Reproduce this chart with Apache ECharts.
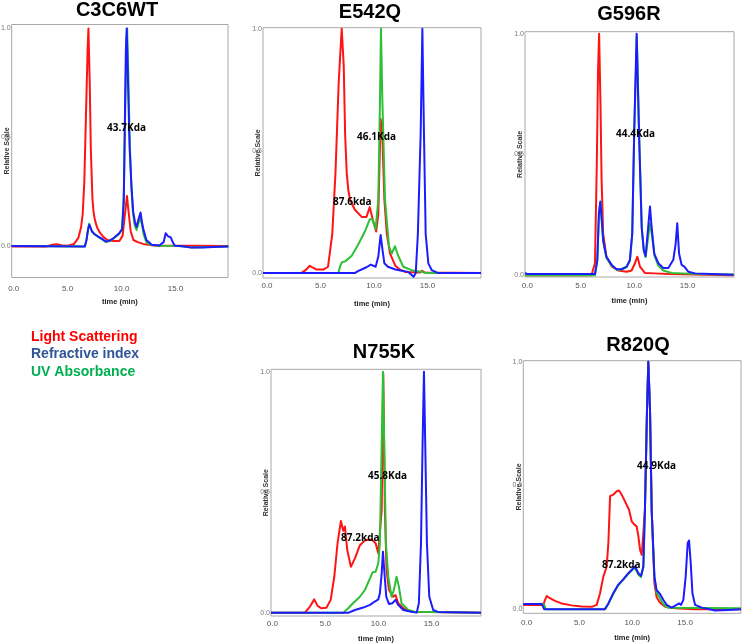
<!DOCTYPE html>
<html><head><meta charset="utf-8">
<script src="https://cdn.jsdelivr.net/npm/echarts@6/dist/echarts.min.js"></script>
<style>html,body{margin:0;padding:0;background:#fff}#c{width:742px;height:643px}</style>
</head><body><div id="c"></div>
<script>
// ---------- DATA ----------
const panelTitles = ["C3C6WT", "E542Q", "G596R", "N755K", "R820Q"];
const xTicks = [0, 5, 10, 15];
const yTicks = [0, 0.5, 1];
const xAxisName = "time (min)";
const yAxisName = "Relative Scale";
const legendLabels = ["Light Scattering", "Refractive index", "UV Absorbance"];
const massLabels = [["43.7Kda"], ["46.1Kda", "87.6kda"], ["44.4Kda"], ["45.8Kda", "87.2kda"], ["44.9Kda", "87.2kda"]];

// C3C6WT
const c3c6wtLS = [[-0.2,0.0],[3.0,0.0],[3.6,0.008],[4.0,0.01],[4.4,0.006],[5.0,0.004],[5.6,0.012],[6.0,0.04],[6.25,0.09],[6.4,0.15],[6.55,0.3],[6.7,0.6],[6.85,0.9],[6.93,1.0],[7.05,0.75],[7.15,0.45],[7.3,0.22],[7.4,0.16],[7.5,0.13],[7.65,0.1],[7.8,0.08],[8.05,0.06],[8.3,0.045],[8.7,0.03],[9.2,0.025],[9.8,0.025],[10.1,0.05],[10.3,0.14],[10.5,0.232],[10.65,0.16],[10.85,0.07],[11.1,0.03],[11.5,0.02],[12.0,0.012],[13.0,0.005],[19.9,0.002]];
const c3c6wtRI = [[-0.2,0.002],[6.6,0.0],[6.75,0.03],[6.9,0.08],[7.0,0.1],[7.1,0.09],[7.25,0.07],[7.5,0.057],[7.8,0.047],[8.2,0.035],[8.54,0.023],[8.9,0.027],[9.3,0.04],[9.78,0.061],[10.05,0.08],[10.2,0.2],[10.3,0.55],[10.4,0.9],[10.48,1.0],[10.6,0.75],[10.75,0.45],[10.93,0.27],[11.08,0.16],[11.25,0.11],[11.39,0.09],[11.6,0.13],[11.76,0.156],[11.9,0.11],[12.0,0.084],[12.3,0.03],[12.8,0.008],[13.5,0.005],[13.9,0.02],[14.09,0.061],[14.33,0.046],[14.55,0.043],[14.75,0.02],[14.95,0.003],[15.5,0.002],[16.5,-0.005],[17.5,-0.005],[18.5,-0.002],[19.9,0.0]];
const c3c6wtUV = [[-0.2,0.002],[6.6,0.0],[6.75,0.03],[6.9,0.08],[7.0,0.105],[7.1,0.09],[7.25,0.07],[7.5,0.055],[7.8,0.045],[8.2,0.033],[8.54,0.021],[8.9,0.025],[9.3,0.038],[9.78,0.058],[10.05,0.078],[10.22,0.25],[10.35,0.65],[10.45,0.95],[10.52,1.0],[10.62,0.8],[10.75,0.5],[10.9,0.28],[11.05,0.16],[11.2,0.1],[11.39,0.076],[11.6,0.11],[11.76,0.13],[11.9,0.1],[12.05,0.055],[12.3,0.02],[12.7,0.008],[13.5,0.004],[15.0,0.003],[16.5,-0.004],[19.9,0.0]];

// E542Q
const e542qLS = [[-0.37,0.0],[3.2,0.0],[3.6,0.012],[4.0,0.03],[4.3,0.022],[4.6,0.015],[5.3,0.015],[5.7,0.026],[6.1,0.16],[6.4,0.41],[6.7,0.78],[6.98,1.0],[7.17,0.85],[7.3,0.57],[7.45,0.41],[7.6,0.34],[7.76,0.3],[8.2,0.26],[8.85,0.23],[9.3,0.23],[9.6,0.27],[9.88,0.22],[10.2,0.17],[10.4,0.24],[10.62,0.63],[10.78,0.56],[10.97,0.3],[11.2,0.16],[11.5,0.08],[12.0,0.03],[12.4,0.015],[12.9,0.005],[14.3,0.003],[14.5,0.01],[14.7,0.003],[20.0,0.0]];
const e542qRI = [[-0.37,0.0],[8.2,0.0],[8.5,0.008],[9.3,0.024],[9.7,0.035],[10.15,0.026],[10.4,0.067],[10.62,0.156],[10.78,0.1],[10.97,0.04],[11.3,0.026],[12.0,0.015],[12.6,0.01],[13.2,0.005],[13.7,-0.015],[13.9,0.0],[14.1,0.16],[14.36,0.57],[14.52,1.0],[14.67,0.57],[14.83,0.16],[15.08,0.04],[15.4,0.012],[16.0,0.0],[20.0,0.0]];
const e542qUV = [[-0.37,0.0],[6.67,0.0],[6.85,0.03],[7.0,0.045],[7.3,0.048],[7.9,0.07],[8.5,0.115],[9.15,0.17],[9.6,0.22],[9.85,0.22],[10.15,0.18],[10.4,0.3],[10.56,0.71],[10.65,1.0],[10.78,0.71],[11.03,0.3],[11.4,0.11],[11.65,0.08],[11.96,0.11],[12.27,0.07],[12.74,0.026],[13.5,0.012],[14.45,0.005],[15.1,0.0],[20.0,0.0]];

// G596R
const g596rLS = [[-0.2,0.0],[6.0,0.0],[6.33,0.05],[6.5,0.45],[6.62,0.85],[6.72,1.0],[6.85,0.7],[6.95,0.4],[7.1,0.17],[7.4,0.077],[7.9,0.036],[8.5,0.02],[9.3,0.015],[9.76,0.02],[10.07,0.05],[10.3,0.077],[10.54,0.036],[11.0,0.01],[11.9,0.008],[13.2,0.005],[19.3,0.0]];
const g596rRI = [[-0.2,0.01],[0.0,0.005],[2.5,0.005],[6.33,0.005],[6.55,0.063],[6.7,0.257],[6.83,0.305],[6.95,0.24],[7.1,0.146],[7.4,0.077],[7.9,0.043],[8.36,0.025],[8.8,0.025],[9.3,0.036],[9.6,0.064],[9.82,0.174],[10.0,0.59],[10.23,1.0],[10.45,0.59],[10.7,0.2],[10.9,0.105],[11.07,0.08],[11.26,0.174],[11.48,0.285],[11.63,0.2],[11.88,0.09],[12.26,0.05],[12.72,0.03],[13.2,0.03],[13.66,0.064],[13.88,0.13],[14.03,0.215],[14.2,0.09],[14.44,0.043],[14.69,0.036],[15.06,0.015],[15.7,0.008],[17.2,0.005],[19.3,0.002]];
const g596rUV = [[-0.2,0.0],[6.33,0.0],[6.55,0.06],[6.7,0.25],[6.83,0.3],[6.95,0.235],[7.1,0.14],[7.4,0.072],[7.9,0.04],[8.36,0.023],[8.8,0.023],[9.3,0.034],[9.6,0.06],[9.82,0.17],[10.0,0.58],[10.25,0.99],[10.47,0.58],[10.72,0.19],[10.9,0.1],[11.07,0.075],[11.26,0.14],[11.48,0.215],[11.65,0.17],[11.9,0.08],[12.26,0.04],[12.72,0.02],[13.5,0.01],[14.5,0.008],[16.0,0.005],[19.3,0.003]];

// N755K
const n755kLS = [[-0.12,0.0],[3.07,0.0],[3.55,0.025],[3.95,0.055],[4.27,0.028],[4.64,0.018],[5.1,0.02],[5.5,0.053],[5.84,0.15],[6.15,0.29],[6.46,0.38],[6.68,0.34],[6.84,0.357],[7.06,0.26],[7.4,0.19],[7.78,0.225],[8.25,0.28],[8.72,0.3],[9.35,0.304],[9.73,0.288],[9.98,0.246],[10.13,0.243],[10.3,0.426],[10.45,0.993],[10.6,0.426],[10.76,0.177],[10.98,0.094],[11.39,0.066],[11.6,0.073],[11.86,0.039],[12.33,0.018],[13.1,0.004],[19.65,0.0]];
const n755kRI = [[-0.12,0.0],[7.2,0.0],[7.78,0.011],[8.57,0.021],[9.2,0.032],[9.66,0.046],[9.98,0.055],[10.13,0.08],[10.3,0.163],[10.42,0.253],[10.54,0.177],[10.73,0.066],[10.98,0.036],[11.3,0.039],[11.6,0.053],[11.86,0.032],[12.33,0.011],[13.1,0.004],[13.6,0.0],[13.8,0.039],[14.0,0.288],[14.15,0.7],[14.28,1.0],[14.4,0.7],[14.56,0.288],[14.78,0.066],[15.15,0.011],[15.6,0.003],[19.65,0.0]];
const n755kUV = [[-0.12,0.0],[6.7,0.0],[7.15,0.018],[7.6,0.039],[8.25,0.066],[8.72,0.094],[9.2,0.142],[9.44,0.167],[9.73,0.17],[9.98,0.205],[10.13,0.288],[10.3,0.7],[10.42,1.0],[10.54,0.7],[10.7,0.288],[10.92,0.15],[11.23,0.066],[11.45,0.094],[11.7,0.149],[11.92,0.108],[12.17,0.039],[12.8,0.011],[13.43,0.004],[19.65,0.0]];

// R820Q
const r820qLS = [[-0.32,0.018],[1.58,0.018],[1.74,0.038],[1.9,0.054],[2.2,0.045],[2.68,0.034],[3.3,0.024],[4.26,0.016],[5.2,0.011],[6.16,0.01],[6.63,0.018],[6.95,0.065],[7.26,0.132],[7.58,0.173],[7.74,0.27],[7.9,0.457],[8.2,0.463],[8.53,0.477],[8.75,0.48],[9.0,0.463],[9.38,0.43],[9.69,0.403],[9.95,0.355],[10.2,0.342],[10.42,0.335],[10.58,0.295],[10.74,0.24],[10.9,0.22],[11.05,0.22],[11.2,0.4],[11.4,0.81],[11.52,1.0],[11.68,0.81],[11.84,0.4],[12.1,0.105],[12.3,0.05],[12.63,0.027],[13.1,0.011],[14.05,0.004],[15.9,0.0],[20.3,0.0]];
const r820qRI = [[-0.32,0.022],[1.42,0.022],[1.67,0.0],[7.4,0.0],[7.74,0.024],[8.2,0.065],[8.68,0.1],[9.16,0.122],[9.63,0.146],[9.95,0.16],[10.26,0.173],[10.58,0.146],[10.83,0.135],[11.05,0.173],[11.2,0.4],[11.4,0.81],[11.52,1.0],[11.68,0.81],[11.84,0.4],[12.1,0.132],[12.3,0.078],[12.63,0.062],[12.95,0.038],[13.26,0.018],[13.74,0.007],[14.2,0.018],[14.43,0.024],[14.62,0.018],[14.84,0.038],[15.06,0.132],[15.25,0.268],[15.38,0.278],[15.54,0.186],[15.7,0.065],[15.95,0.018],[16.6,0.007],[17.84,-0.005],[19.1,-0.003],[20.3,0.0]];
const r820qUV = [[-0.32,0.022],[1.5,0.022],[1.7,0.015],[1.8,0.0],[7.4,0.0],[7.74,0.022],[8.2,0.062],[8.68,0.097],[9.16,0.12],[9.63,0.143],[9.95,0.157],[10.26,0.168],[10.58,0.14],[10.83,0.13],[11.05,0.17],[11.2,0.4],[11.4,0.81],[11.52,1.0],[11.68,0.81],[11.84,0.4],[12.1,0.13],[12.3,0.068],[12.63,0.045],[12.95,0.02],[13.4,0.006],[20.3,0.004]];

const panelData = [
  [c3c6wtLS, c3c6wtUV, c3c6wtRI],
  [e542qLS, e542qUV, e542qRI],
  [g596rLS, g596rUV, g596rRI],
  [n755kLS, n755kUV, n755kRI],
  [r820qLS, r820qUV, r820qRI]
];

// ---------- LAYOUT / STYLE ----------
const grids = [
  {left: 11.7, top: 24.5, width: 216.3, height: 253, xMin: -0.185, xMax: 19.87, yMin: -0.142, yMax: 1.018, lm: 6.8, ng: 20.5},
  {left: 263, top: 27.7, width: 218, height: 250.3, xMin: -0.374, xMax: 20.0, yMin: -0.02, yMax: 1.004, lm: 4, ng: 22},
  {left: 525, top: 31.7, width: 209, height: 245.3, xMin: -0.215, xMax: 19.34, yMin: -0.007, yMax: 1.008, lm: 5, ng: 20},
  {left: 271, top: 369.3, width: 210, height: 246.7, xMin: -0.12, xMax: 19.65, yMin: -0.014, yMax: 1.01, lm: 3.3, ng: 19},
  {left: 523.3, top: 360.7, width: 217.7, height: 252.6, xMin: -0.32, xMax: 20.3, yMin: -0.016, yMax: 1.004, lm: 5.7, ng: 21}
];
const titlePos = [[117,10],[370,12],[629,14],[384,352],[638,345]];
const massPos = [[[107,128]], [[357,137],[333,202]], [[616,134]], [[368,476],[341,538]], [[637,466],[602,565]]];
const lineColors = ['#ff1414', '#2dbf35', '#1c1cff'];
const legendColors = ['#ff0000', '#2f5597', '#00b050'];
const FONT = 'Liberation Sans, Arial, sans-serif';

const option = {
  animation: false,
  backgroundColor: '#fff',
  grid: [], xAxis: [], yAxis: [], series: [], graphic: []
};

grids.forEach((g, i) => {
  option.grid.push({left: g.left, top: g.top, width: g.width, height: g.height, show: true, borderColor: '#a8a8a8', borderWidth: 1, backgroundColor: '#fff', containLabel: false, outerBoundsMode: 'none'});
  option.xAxis.push({
    type: 'value', gridIndex: i, min: g.xMin, max: g.xMax,
    axisLine: {show: false}, axisTick: {show: false}, splitLine: {show: false},
    axisLabel: {customValues: xTicks, formatter: v => v.toFixed(1), fontSize: 8, color: '#555', fontFamily: FONT, margin: g.lm},
    name: xAxisName, nameLocation: 'middle', nameGap: g.ng, nameMoveOverlap: false,
    nameTextStyle: {fontSize: 7.5, fontWeight: 'bold', color: '#222', fontFamily: FONT}
  });
  option.yAxis.push({
    type: 'value', gridIndex: i, min: g.yMin, max: g.yMax,
    axisLine: {show: false}, axisTick: {show: false}, splitLine: {show: false},
    axisLabel: {customValues: yTicks, formatter: v => v.toFixed(1), fontSize: 7, color: '#777', fontFamily: FONT, margin: 1},
    name: yAxisName, nameLocation: 'middle', nameGap: 1, nameRotate: 90, nameMoveOverlap: false,
    nameTextStyle: {fontSize: 7, fontWeight: 'bold', color: '#333', fontFamily: FONT, verticalAlign: 'bottom'}
  });
  panelData[i].forEach((d, k) => {
    option.series.push({
      type: 'line', xAxisIndex: i, yAxisIndex: i, data: d, showSymbol: false, smooth: false,
      lineStyle: {color: lineColors[k], width: 2, join: 'round'}, z: 2 + k, clip: true
    });
  });
  option.graphic.push({type: 'text', x: titlePos[i][0], y: titlePos[i][1],
    style: {text: panelTitles[i], font: 'bold 20px ' + FONT, fill: '#000', textAlign: 'center', textVerticalAlign: 'middle'}, z: 10});
  massLabels[i].forEach((t, j) => {
    option.graphic.push({type: 'text', x: massPos[i][j][0], y: massPos[i][j][1],
      style: {text: t, font: 'bold 10px Open Sans, ' + FONT, fill: '#000', textAlign: 'left', textVerticalAlign: 'middle'}, z: 10});
  });
});

const legendY = [337, 354, 372];
legendLabels.forEach((t, k) => {
  option.graphic.push({type: 'text', x: 31, y: legendY[k],
    style: {text: t, font: 'bold 14px ' + FONT, fill: legendColors[k], textAlign: 'left', textVerticalAlign: 'middle'}, z: 10});
});

const chart = echarts.init(document.getElementById('c'), null, {renderer: 'canvas'});
chart.setOption(option);
</script>
</body></html>
